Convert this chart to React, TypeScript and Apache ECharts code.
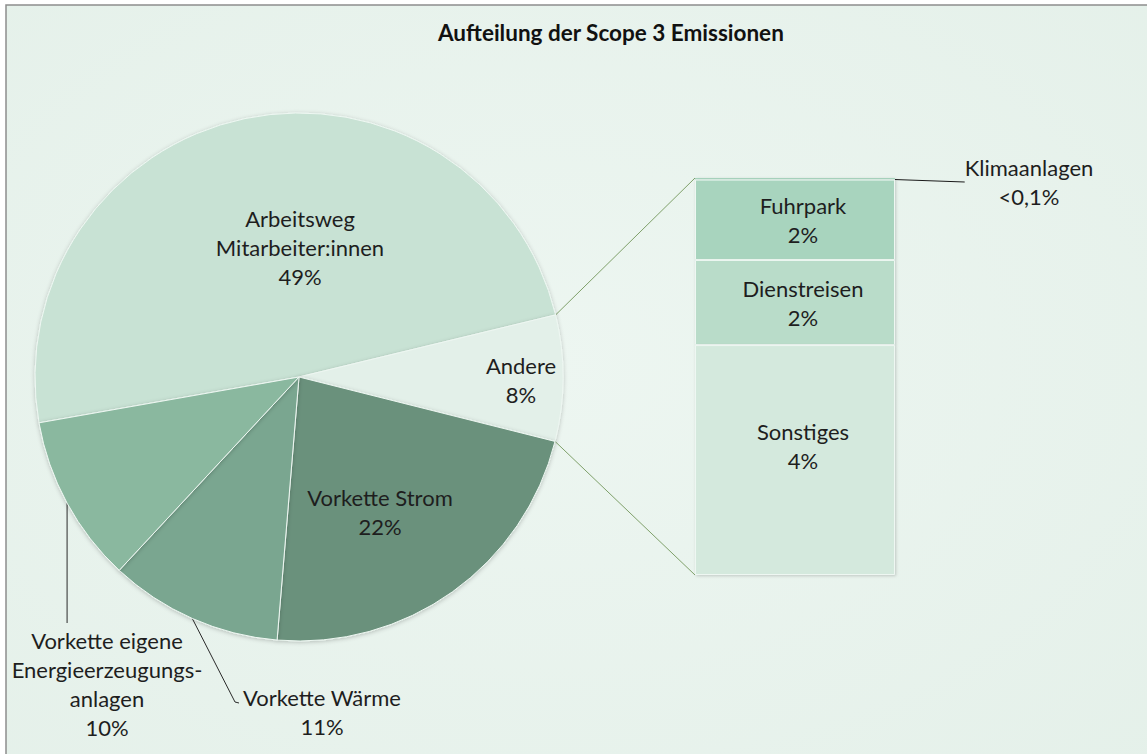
import React, { useEffect, useRef } from "react";
import * as echarts from "echarts";

// ---- data ----
const titleText = "Aufteilung der Scope 3 Emissionen";

const pieNames = [
  "Arbeitsweg\nMitarbeiter:innen",
  "Andere",
  "Vorkette Strom",
  "Vorkette Wärme",
  "Vorkette eigene\nEnergieerzeugungs-\nanlagen",
];
const pieValues = [49.0, 7.7, 22.4, 10.6, 10.3];
const pieColors = ["#c8e2d4", "#e3f0e9", "#6a917c", "#7aa690", "#8ab89f"];

const barNames = ["Klimaanlagen", "Fuhrpark", "Dienstreisen", "Sonstiges"];
const barValues = [0.03, 1.56, 1.65, 4.46];
const barColors = ["#a8d4be", "#a8d4be", "#b9dcc9", "#d4e9dd"];

// ---- layout / style ----
const FONT = "Lato";
const CX = 299;
const CY = 377;
const R = 264;
const START = 190;
const GRID_LEFT = 695;
const GRID_TOP = 178;
const GRID_W = 200;
const GRID_H = 397;

// label positions (text anchors)
const pieLabelPos: Record<number, any> = {
  0: { x: 300, y: 247 },
  1: { x: 521, y: 380 },
  2: { x: 380, y: 512 },
  3: { x: 322, y: 712 },
  4: { x: 107, y: 684 },
};

function pct(v: number) {
  return v < 0.1 ? "<0,1%" : Math.round(v) + "%";
}

export default function App() {
  const ref = useRef<HTMLDivElement>(null);

  useEffect(() => {
    if (!ref.current) return;
    const chart = echarts.init(ref.current, undefined, { renderer: "svg" });

    const total = pieValues.reduce((a, b) => a + b, 0);
    const barTotal = barValues.reduce((a, b) => a + b, 0);
    const angleAt = (cum: number) => START - (360 * cum) / total;
    const pt = (deg: number) => {
      const r = (deg * Math.PI) / 180;
      return [CX + R * Math.cos(r), CY - R * Math.sin(r)];
    };
    const cumBefore = (i: number) =>
      pieValues.slice(0, i).reduce((a, b) => a + b, 0);
    const midAngle = (i: number) =>
      angleAt(cumBefore(i) + pieValues[i] / 2);

    const conTop = pt(angleAt(cumBefore(1)));
    const conBot = pt(angleAt(cumBefore(2)));

    const textStyleBase = {
      fontFamily: FONT,
      fontSize: 22,
      lineHeight: 29,
      color: "#1e1e1e",
    };

    const pieData = pieNames.map((n, i) => {
      const outside = i >= 3;
      return {
        name: n,
        value: pieValues[i],
        itemStyle: { color: pieColors[i] },
        label: { position: outside ? "outside" : "inside" },
        labelLine: {
          show: outside,
          lineStyle: { color: "#2a2a2a", width: 1 },
        },
      };
    });

    const barSeries = barNames.map((n, i) => {
      const isKlima = i === 0;
      return {
        type: "bar",
        name: n,
        stack: "andere",
        barWidth: "100%",
        data: [{ value: barValues[i], name: n }],
        itemStyle: {
          color: barColors[i],
          borderColor: "#eef7f2",
          borderWidth: isKlima ? 0 : 1,
          shadowBlur: 3,
          shadowColor: "rgba(0,0,0,0.18)",
          shadowOffsetX: 1,
          shadowOffsetY: 1,
        },
        label: {
          show: true,
          position: isKlima ? "right" : "inside",
          formatter: () => n + "\n" + pct(barValues[i]),
          offset: i === 3 ? [8, -14] : [8, 0],
          ...textStyleBase,
        },
        labelLine: isKlima
          ? { show: true, lineStyle: { color: "#1a1a1a", width: 1 } }
          : { show: false },
        labelLayout: isKlima
          ? () => ({
              x: 1029,
              y: 182,
              align: "center",
              verticalAlign: "middle",
              labelLinePoints: [
                [GRID_LEFT + GRID_W, GRID_TOP],
                [955, 182],
                [958, 182],
              ],
            })
          : undefined,
        emphasis: { disabled: true },
      };
    });

    const option: any = {
      animation: false,
      title: {
        text: titleText,
        left: 433,
        top: 16,
        textStyle: {
          fontFamily: FONT,
          fontSize: 22.5,
          fontWeight: "bold",
          color: "#111",
        },
      },
      graphic: [
        {
          type: "rect",
          z: -10,
          silent: true,
          shape: { x: 6, y: 5, width: 1200, height: 800 },
          style: {
            fill: {
              type: "radial",
              x: 0.45,
              y: 0.45,
              r: 0.75,
              colorStops: [
                { offset: 0, color: "#edf6f1" },
                { offset: 1, color: "#e4f0e9" },
              ],
            },
            stroke: "#8d8d8d",
            lineWidth: 1.5,
          },
        },
        {
          type: "line",
          z: -5,
          silent: true,
          shape: {
            x1: conTop[0],
            y1: conTop[1],
            x2: GRID_LEFT,
            y2: GRID_TOP,
          },
          style: { stroke: "#7fa06a", lineWidth: 1 },
        },
        {
          type: "line",
          z: -5,
          silent: true,
          shape: {
            x1: conBot[0],
            y1: conBot[1],
            x2: GRID_LEFT,
            y2: GRID_TOP + GRID_H,
          },
          style: { stroke: "#7fa06a", lineWidth: 1 },
        },
      ],
      grid: {
        left: GRID_LEFT,
        top: GRID_TOP,
        width: GRID_W,
        height: GRID_H,
        containLabel: false,
      },
      xAxis: { type: "category", data: ["Andere"], show: false },
      yAxis: {
        type: "value",
        inverse: true,
        min: 0,
        max: barTotal,
        show: false,
      },
      series: [
        {
          type: "pie",
          center: [CX, CY],
          radius: R,
          startAngle: START,
          clockwise: true,
          avoidLabelOverlap: false,
          data: pieData,
          itemStyle: {
            borderColor: "#eef7f2",
            borderWidth: 1,
            shadowBlur: 4,
            shadowColor: "rgba(0,0,0,0.22)",
            shadowOffsetY: 1,
          },
          label: {
            show: true,
            formatter: (p: any) => p.name + "\n" + Math.round(p.percent) + "%",
            ...textStyleBase,
          },
          labelLayout: (p: any) => {
            const i = p.dataIndex;
            const pos = pieLabelPos[i];
            const res: any = {
              x: pos.x,
              y: pos.y,
              align: "center",
              verticalAlign: "middle",
            };
            if (i === 3) {
              const e = pt(midAngle(3));
              res.labelLinePoints = [e, [235, 702], [239, 703]];
            } else if (i === 4) {
              const e = pt(midAngle(4));
              res.labelLinePoints = [e, [e[0], 623], [e[0], 623]];
            }
            return res;
          },
          emphasis: { disabled: true },
        },
        ...barSeries,
      ],
    };

    chart.setOption(option);
    return () => chart.dispose();
  }, []);

  return (
    <div
      ref={ref}
      style={{
        position: "fixed",
        left: 0,
        top: 0,
        width: 1147,
        height: 754,
        background: "#ffffff",
      }}
    />
  );
}
